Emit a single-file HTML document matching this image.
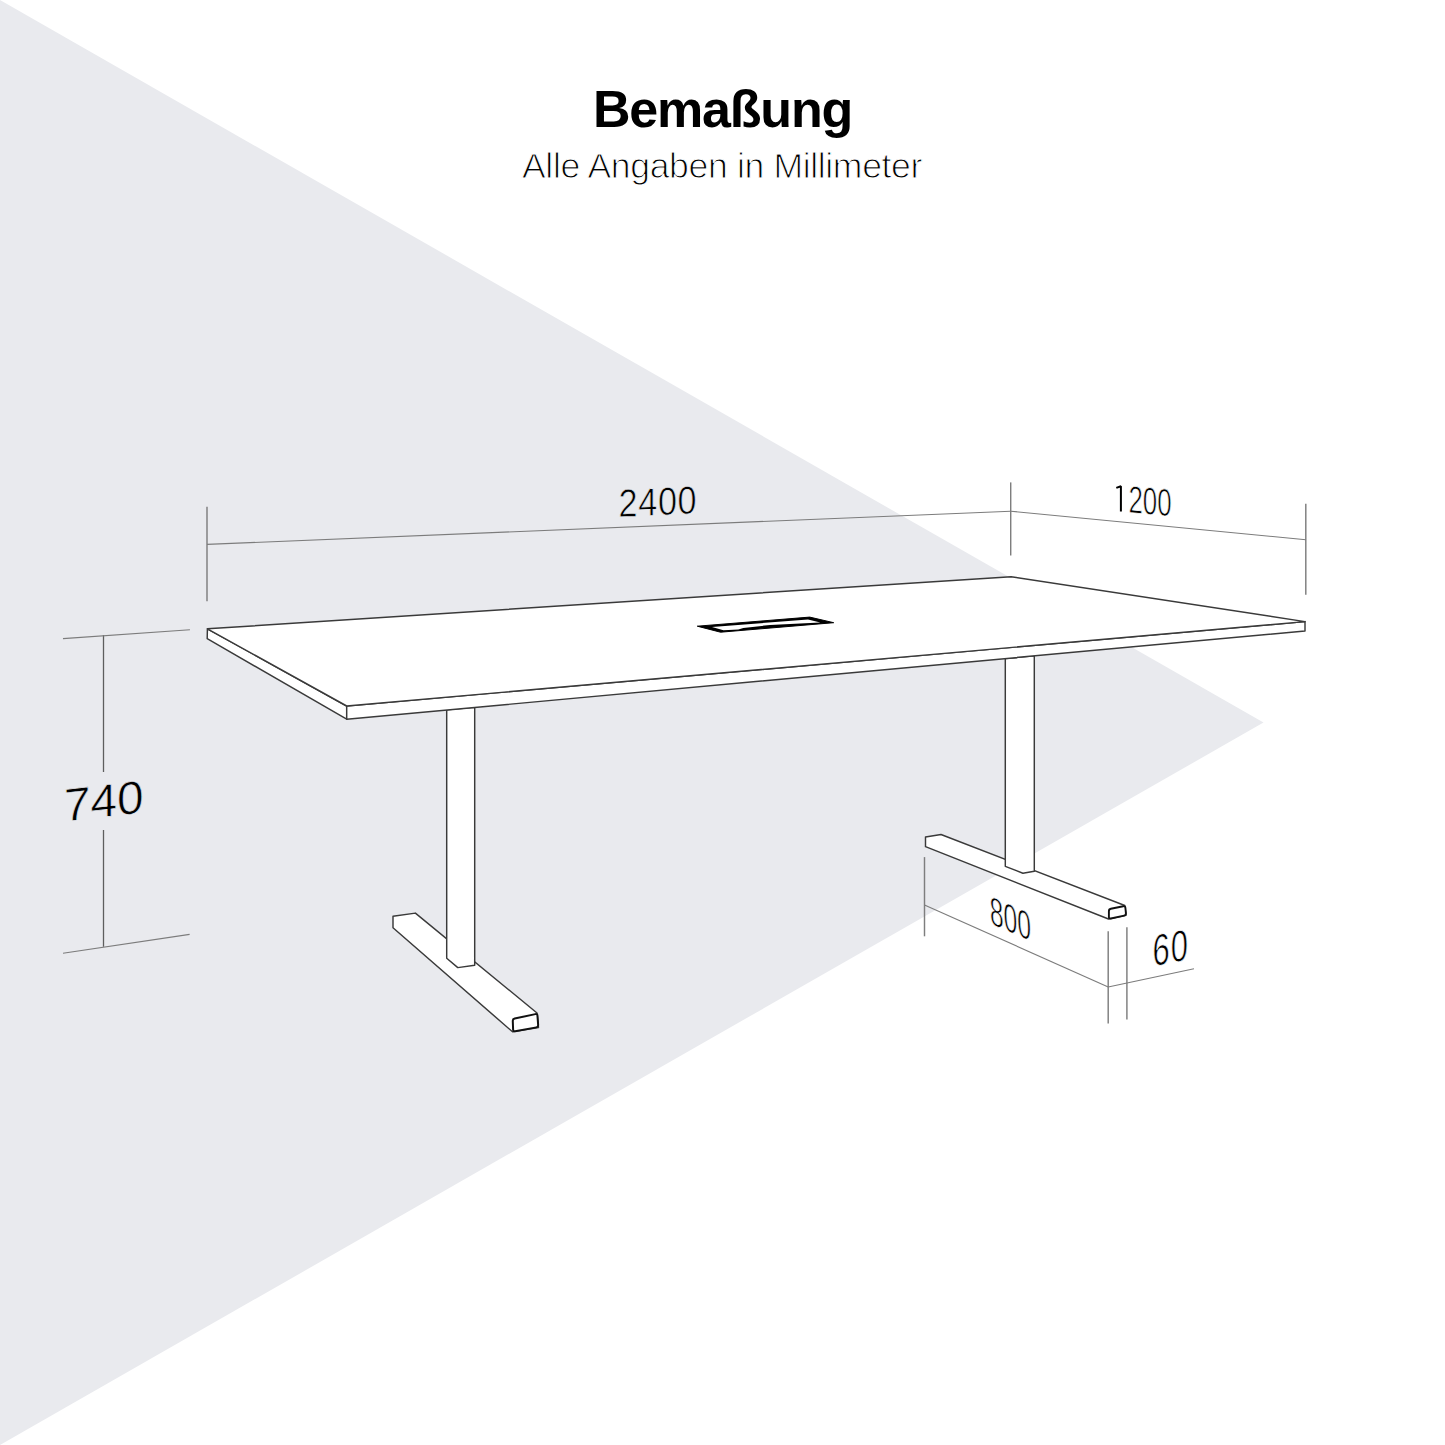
<!DOCTYPE html>
<html lang="de">
<head>
<meta charset="utf-8">
<title>Bemaßung</title>
<style>
html,body{margin:0;padding:0;background:#fff;}
body{width:1445px;height:1445px;overflow:hidden;position:relative;font-family:"Liberation Sans",sans-serif;}
svg{position:absolute;left:0;top:0;display:block;}
</style>
</head>
<body>
<svg width="1445" height="1445" viewBox="0 0 1445 1445" xmlns="http://www.w3.org/2000/svg">
  <!-- background triangle -->
  <polygon points="0,0 1263.5,722.5 0,1445" fill="#e9eaee"/>

  <!-- title -->
  <text x="722.5" y="126.5" text-anchor="middle" font-family="Liberation Sans" font-weight="bold" font-size="52" letter-spacing="-1.2" fill="#000">Bemaßung</text>
  <text x="722" y="178.1" text-anchor="middle" font-family="Liberation Sans" font-size="35.6" letter-spacing="-0.36" fill="#000" stroke="#fff" stroke-width="1.05">Alle Angaben in Millimeter</text>

  <!-- dimension lines -->
  <g stroke="#7e7e7e" stroke-width="1.45" fill="none">
    <line x1="207" y1="506.7" x2="207" y2="601.3"/>
    <line x1="1010.7" y1="482.4" x2="1010.7" y2="555.5"/>
    <line x1="1305.8" y1="503.7" x2="1305.8" y2="594.8"/>
    <line x1="924.5" y1="857.1" x2="924.5" y2="936.3"/>
    <line x1="1108.2" y1="931.3" x2="1108.2" y2="1023.6"/>
    <line x1="1126.9" y1="927.3" x2="1126.9" y2="1019.4"/>
  </g>
  <g stroke="#5e5e5e" stroke-width="1.3" fill="none">
    <line x1="103.5" y1="635" x2="103.5" y2="772"/>
    <line x1="103.5" y1="830" x2="103.5" y2="946.8"/>
  </g>
  <g stroke="#7c7c7c" stroke-width="1.1" fill="none">
    <line x1="207" y1="544.4" x2="1010.7" y2="511.2"/>
    <line x1="1010.7" y1="511.2" x2="1305.8" y2="539.7"/>
    <line x1="63" y1="638.6" x2="189.9" y2="629.7"/>
    <line x1="63" y1="953.3" x2="189.6" y2="934.4"/>
    <line x1="924.5" y1="904.9" x2="1108.2" y2="987"/>
    <line x1="1108.2" y1="987" x2="1194" y2="968.8"/>
  </g>

  <!-- dimension texts -->
  <g font-family="Liberation Sans" fill="#000">
    <text font-size="39.1" letter-spacing="0.7" stroke="#e9eaee" stroke-width="0.65" transform="matrix(0.875,-0.04,0,1,618.6,517)">2400</text>
    <text font-size="38.4" stroke="#fff" stroke-width="0.8" transform="matrix(0.675,0.062,0,1,1128.4,512.4)">200</text>
    <text font-size="46.4" stroke="#e9eaee" stroke-width="0.6" transform="matrix(1.03,-0.117,0,1,63.8,821.6)">740</text>
    <text font-size="40.4" stroke="#fff" stroke-width="0.8" transform="matrix(0.615,0.265,0.04,1,990.2,923.6)">800</text>
    <text font-size="44.3" letter-spacing="1.5" stroke="#fff" stroke-width="0.75" transform="matrix(0.7,-0.135,0,1,1152.4,966.6)">60</text>
  </g>

  <path d="M1116.3,487.9 L1120.9,486.2 L1120.9,511.4" stroke="#000" stroke-width="2" fill="none" stroke-linejoin="bevel"/>

  <!-- table -->
  <g stroke="#3a3a3a" stroke-width="1.45" stroke-linejoin="round" fill="#fff">
    <!-- left foot -->
    <polygon points="393,916.3 415.4,913.1 537,1013 538.5,1027.5 512.5,1031.8 393,927.8"/>
    <path d="M514.66,1018.58 L535.34,1014.12 Q537.30,1013.70 537.45,1015.69 L538.15,1025.01 Q538.30,1027.00 536.33,1027.36 L515.17,1031.24 Q513.20,1031.60 513.12,1029.60 L512.78,1021.00 Q512.70,1019.00 514.66,1018.58 Z" stroke="#111" stroke-width="2"/>
    <!-- left column -->
    <polygon points="446.7,709.9 474.7,707.3 474.7,965.2 457.8,967.6 446.7,958.2"/>
    <!-- right foot -->
    <polygon points="925.5,837 941,834.5 1124.8,905.5 1126,915.2 1108.5,919 925.5,846.7"/>
    <path d="M1110.86,908.79 L1123.24,906.21 Q1125.20,905.80 1125.39,907.79 L1125.91,913.21 Q1126.10,915.20 1124.14,915.62 L1110.86,918.48 Q1108.90,918.90 1108.90,916.90 L1108.90,911.20 Q1108.90,909.20 1110.86,908.79 Z" stroke="#111" stroke-width="1.9"/>
    <!-- right column -->
    <polygon points="1005.3,658.6 1034.3,655.9 1034.3,871.2 1022.9,873.2 1005.3,866.3"/>
    <!-- table top faces -->
    <polygon points="207.4,628.8 346.7,706 346.7,719.2 207.2,638.7"/>
    <polygon points="346.7,706 1305,621.6 1305,631 346.7,719.2"/>
    <polygon points="207.4,628.8 1011.1,576.7 1305,621.6 346.7,706"/>
    <!-- grommet -->
    <polygon points="697.3,626.2 809.7,617.1 833.7,622.7 720.5,632.2" fill="#000" stroke="#000" stroke-width="1"/>
    <polygon points="712,627 808,619.5 820.3,622.4 770,625 743.3,627.9 738.4,629.6 723.4,630.3" fill="#fff" stroke="none"/>
  </g>
</svg>
</body>
</html>
